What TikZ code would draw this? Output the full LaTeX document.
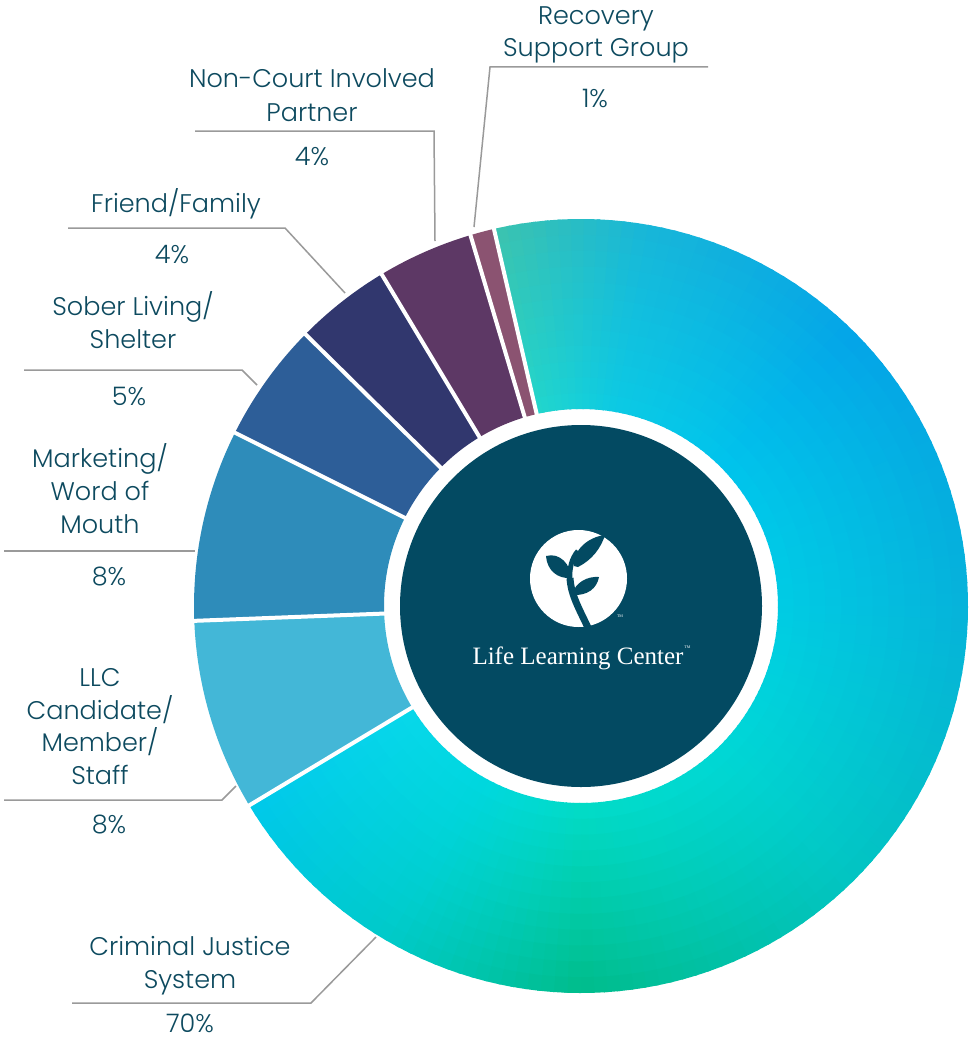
\documentclass[tikz,border=0pt]{standalone}
\usepackage{fontspec}
\setmainfont{Poppins}[UprightFont=* Light]
\newfontfamily\logofont{Liberation Serif}
\definecolor{txt}{HTML}{0D4A5F}
\definecolor{leader}{HTML}{9A9A9A}
\definecolor{darkc}{HTML}{034A62}
\definecolor{llcc}{HTML}{43B7D7}
\definecolor{mktc}{HTML}{2E8CBA}
\definecolor{sobc}{HTML}{2D5E98}
\definecolor{frc}{HTML}{31376E}
\definecolor{ncc}{HTML}{5D3865}
\definecolor{rsc}{HTML}{8B5371}
% outer-edge gradient keys
\definecolor{tA}{HTML}{3CC3AE}
\definecolor{tB}{HTML}{18B6D8}
\definecolor{tC}{HTML}{04A4E8}
\definecolor{tD}{HTML}{06B2DA}
\definecolor{tE}{HTML}{02C4C2}
\definecolor{tF}{HTML}{00BC8A}
\definecolor{tG}{HTML}{00CAC8}
\definecolor{tH}{HTML}{00C8EA}
% inner-edge gradient keys
\definecolor{uA}{HTML}{22D6CC}
\definecolor{uB}{HTML}{0CCAE4}
\definecolor{uC}{HTML}{00C4EC}
\definecolor{uD}{HTML}{00CCE4}
\definecolor{uE}{HTML}{00D8D6}
\definecolor{uF}{HTML}{02DCC8}
\definecolor{uG}{HTML}{00D8E0}
\definecolor{uH}{HTML}{08D8EA}
\newcommand\donutslice[3]{\fill[#1] (#2:197) -- (#2:387) arc[start angle=#2,end angle=#3,radius=387] -- (#3:197) arc[start angle=#3,end angle=#2,radius=197] -- cycle;}
\tikzset{
  lbl/.style={text=txt, anchor=base, inner sep=0pt, font=\fontsize{25.5}{32}\selectfont},
  leaderline/.style={draw=leader, line width=1.5pt},
}
\begin{document}
\begin{tikzpicture}[x=1pt,y=-1pt]
\useasboundingbox (0,0) rectangle (971,1041);
\fill[white] (0,0) rectangle (971,1041);
\begin{scope}[shift={(581,606)}]
  \foreach \sa/\ea/\oA/\oB/\iA/\iB in {-103/-80/tA/tB/uA/uB, -80/-45/tB/tC/uB/uC, -45/0/tC/tD/uC/uD, 0/45/tD/tE/uD/uE, 45/90/tE/tF/uE/uF, 90/120/tF/tG/uF/uG, 120/149/tG/tH/uG/uH}{
    \pgfmathtruncatemacro\n{round((\ea-\sa)/2)}
    \foreach \k in {1,...,\n}{
      \pgfmathsetmacro\a{\sa+(\k-1)*(\ea-\sa)/\n}
      \pgfmathsetmacro\b{\sa+\k*(\ea-\sa)/\n+0.5}
      \pgfmathtruncatemacro\t{round((\k-0.5)/\n*100)}
      \colorlet{curo}{\oB!\t!\oA}
      \colorlet{curi}{\iB!\t!\iA}
      \foreach \j in {0,...,11}{
        \pgfmathsetmacro\ra{197+\j*190/12}
        \pgfmathsetmacro\rb{min(387,197+(\j+1)*190/12+0.8)}
        \pgfmathtruncatemacro\s{round((\j+0.5)/12*100)}
        \fill[curo!\s!curi] (\a:\ra) -- (\a:\rb) arc[start angle=\a,end angle=\b,radius=\rb] -- (\b:\ra) arc[start angle=\b,end angle=\a,radius=\ra] -- cycle;
      }
    }
  }
  \donutslice{llcc}{149}{177.8}
  \donutslice{mktc}{177.8}{206.6}
  \donutslice{sobc}{206.6}{224.6}
  \donutslice{frc}{224.6}{239}
  \donutslice{ncc}{239}{253.4}
  \donutslice{rsc}{253.4}{257}
  \foreach \a in {-103,-106.6,-121,-135.4,-153.4,-182.2,149}
    \draw[white, line width=4pt] (\a:190) -- (\a:395);
  \fill[darkc] (0,0) circle[radius=181];
\end{scope}
% logo
\fill[white] (578.5,578.5) circle[radius=48.5];
\draw[darkc, line width=7pt] (590,632) .. controls (580,610) and (571,596) .. (570,578);
\draw[darkc, line width=5pt] (570,580) .. controls (569,568) and (572,558) .. (578,551);
\fill[darkc] (574,566) .. controls (573,550) and (588,537) .. (605,535) .. controls (601,548) and (592,560) .. (578,567) -- cycle;
\fill[darkc] (546,556) .. controls (560,552) and (571,565) .. (571,578) .. controls (557,579) and (547,570) .. cycle;
\fill[darkc] (572,595) .. controls (575,582) and (588,576) .. (599,577) .. controls (597,588) and (588,596) .. cycle;
\node[white, inner sep=0pt, font=\logofont\fontsize{4}{4}\selectfont] (tm1) at (620,616) {TM};
\node[white, anchor=base, inner sep=0pt, font=\logofont\fontsize{25}{25}\selectfont] (llcname) at (578,664) {Life Learning Center};
\node[white, anchor=south west, inner sep=0.5pt, font=\logofont\fontsize{4}{4}\selectfont] (tm2) at ([yshift=-3pt]llcname.north east) {TM};
% labels
\node[lbl] (rsg1) at (596,25) {Recovery};
\node[lbl] (rsg2) at (596,57) {Support Group};
\node[lbl] (rsgp) at (595,107) {1\%};
\node[lbl] (nc1) at (312,88) {Non-Court Involved};
\node[lbl] (nc2) at (312,121) {Partner};
\node[lbl] (ncp) at (312,165) {4\%};
\node[lbl] (ff1) at (176,212) {Friend/Family};
\node[lbl] (ffp) at (172,263) {4\%};
\node[lbl] (sl1) at (133,315) {Sober Living/};
\node[lbl] (sl2) at (133,348) {Shelter};
\node[lbl] (slp) at (129,405) {5\%};
\node[lbl] (mk1) at (100,467) {Marketing/};
\node[lbl] (mk2) at (100,500) {Word of};
\node[lbl] (mk3) at (100,533) {Mouth};
\node[lbl] (mkp) at (109,585) {8\%};
\node[lbl] (lc1) at (100,686) {LLC};
\node[lbl] (lc2) at (100,719) {Candidate/};
\node[lbl] (lc3) at (100,751) {Member/};
\node[lbl] (lc4) at (100,784) {Staff};
\node[lbl] (lcp) at (109,833) {8\%};
\node[lbl] (cj1) at (190,955) {Criminal Justice};
\node[lbl] (cj2) at (190,988) {System};
\node[lbl] (cjp) at (190,1032) {70\%};
% leader lines
\coordinate (rsA) at (474,227); \coordinate (rsB) at (490,67); \coordinate (rsC) at (708,67);
\coordinate (ncA) at (195,131); \coordinate (ncB) at (434,131); \coordinate (ncC) at (435,241);
\coordinate (ffA) at (68,228); \coordinate (ffB) at (285,228); \coordinate (ffC) at (345,293);
\coordinate (slA) at (24,370); \coordinate (slB) at (242,370); \coordinate (slC) at (257,385);
\coordinate (mkA) at (4,551); \coordinate (mkB) at (195,551);
\coordinate (lcA) at (4,800); \coordinate (lcB) at (222,800); \coordinate (lcC) at (236,786);
\coordinate (cjA) at (72,1003); \coordinate (cjB) at (311,1003); \coordinate (cjC) at (376,937);
\draw[leaderline] (rsA) -- (rsB) -- (rsC);
\draw[leaderline] (ncA) -- (ncB) -- (ncC);
\draw[leaderline] (ffA) -- (ffB) -- (ffC);
\draw[leaderline] (slA) -- (slB) -- (slC);
\draw[leaderline] (mkA) -- (mkB);
\draw[leaderline] (lcA) -- (lcB) -- (lcC);
\draw[leaderline] (cjA) -- (cjB) -- (cjC);
\end{tikzpicture}
\end{document}
